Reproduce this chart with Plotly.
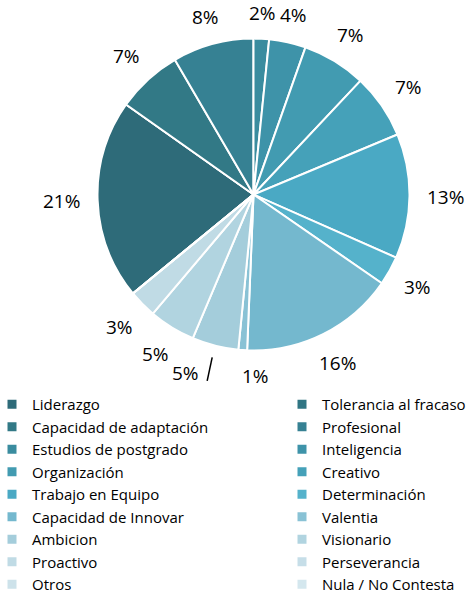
import math
import plotly.graph_objects as go

categories = [
    "Liderazgo", "Tolerancia al fracaso", "Capacidad de adaptación", "Profesional",
    "Estudios de postgrado", "Inteligencia", "Organización", "Creativo",
    "Trabajo en Equipo", "Determinación", "Capacidad de Innovar", "Valentia",
    "Ambicion", "Visionario", "Proactivo", "Perseverancia", "Otros", "Nula / No Contesta",
]
# share of answers (%)
values = [20.7, 0, 6.8, 8.4, 1.6, 3.8, 6.6, 6.7, 12.9, 3.0, 16.0, 0.9, 4.8, 4.8, 2.9, 0, 0, 0]
colors = [
    "#2e6b79", "#307583", "#327986", "#368193", "#3a8c9f", "#3e93a9", "#429bb1", "#45a1b9",
    "#4aa9c4", "#55b2cb", "#74b8ce", "#89c2d5", "#a4cddb", "#b1d4e0", "#c0dbe5",
    "#c6dee8", "#cde2ea", "#d4e7ee",
]

FONT = "Open Sans, Lato, Calibri, sans-serif"
LABEL_SIZE = 19
LEGEND_SIZE = 15

W, H = 472, 601
# pie box (pixels): centre and radius
cx, cy, r = 253.5, 194.5, 156

total = sum(values)
labels_text = [f"{round(v / total * 100)}%" if v > 0 else "" for v in values]
# first slice starts so that the Profesional/Estudios boundary sits at 12 o'clock
before_top = sum(values[:4])
rotation = -before_top / total * 360

fig = go.Figure()
fig.add_trace(go.Pie(
    labels=categories,
    values=values,
    textinfo="none",
    sort=False,
    direction="clockwise",
    rotation=rotation,
    marker=dict(colors=colors, line=dict(color="white", width=2)),
    domain=dict(x=[(cx - r) / W, (cx + r) / W],
                y=[1 - (cy + r) / H, 1 - (cy - r) / H]),
    showlegend=False,
    hoverinfo="label+percent",
))

# legend: two columns, filled row by row (even items left, odd items right)
for i, (cat, col) in enumerate(zip(categories, colors)):
    fig.add_trace(go.Scatter(
        x=[None], y=[None], mode="markers", name=cat,
        marker=dict(symbol="square", size=9, color=col),
        legend="legend" if i % 2 == 0 else "legend2",
        showlegend=True, hoverinfo="skip",
    ))

# outside data labels, positioned at each slice's mid-angle
labels = []
cum = 0
for v, txt in zip(values, labels_text):
    mid = cum + v / 2
    cum += v
    if v <= 0:
        continue
    theta = math.radians(rotation + mid / total * 360)
    s, c = math.sin(theta), math.cos(theta)
    tw = LABEL_SIZE * (0.572 * (len(txt) - 1) + 0.83)
    th = 16
    dist = r + 17 + abs(s) * tw / 2 + abs(c) * th / 2
    labels.append(dict(txt=txt, theta=theta, x=cx + dist * s, y=cy - dist * c,
                       x0=cx + dist * s, tw=tw))

# resolve overlaps between neighbouring labels below the pie (original positions)
MIN_SEP = 70
pairs = []
for a, b in zip(labels, labels[1:]):
    if a["y"] < cy + r or b["y"] < cy + r:
        continue
    dx = abs(a["x0"] - b["x0"])
    gap = dx - (a["tw"] + b["tw"]) / 2
    if abs(a["y"] - b["y"]) < 18 and gap < 15:
        pairs.append((a, b, dx))
for a, b, dx in pairs:
    need = MIN_SEP - dx
    sign = 1 if a["x0"] >= b["x0"] else -1
    a["x"] += sign * need * 0.4
    b["x"] -= sign * need * 0.6

annotations = []
shapes = []
for lab in labels:
    annotations.append(dict(
        x=lab["x"] / W, y=1 - lab["y"] / H, xref="paper", yref="paper",
        text=lab["txt"], showarrow=False, xanchor="center", yanchor="middle",
        font=dict(family=FONT, size=LABEL_SIZE, color="#000000"),
    ))
    if abs(lab["x"] - lab["x0"]) > 20:
        # leader line from the pie edge to the displaced label
        sx = cx + (r + 12) * math.sin(lab["theta"])
        sy = cy - (r + 12) * math.cos(lab["theta"])
        ex = lab["x"] + lab["tw"] / 2 + 8
        ey = lab["y"] + 8
        shapes.append(dict(type="line", xref="paper", yref="paper",
                           x0=sx / W, y0=1 - sy / H, x1=ex / W, y1=1 - ey / H,
                           line=dict(color="#000000", width=1.5)))

legend_common = dict(
    orientation="v", yanchor="top", xanchor="left",
    font=dict(family=FONT, size=LEGEND_SIZE, color="#000000"),
    bgcolor="rgba(0,0,0,0)", traceorder="normal",
)

fig.update_layout(
    width=W, height=H,
    margin=dict(l=0, r=0, t=0, b=0, autoexpand=False),
    paper_bgcolor="white",
    plot_bgcolor="white",
    font=dict(family=FONT, size=LEGEND_SIZE, color="#000000"),
    annotations=annotations,
    shapes=shapes,
    xaxis=dict(visible=False),
    yaxis=dict(visible=False),
    legend=dict(x=-8 / W, y=1 - 388 / H, **legend_common),
    legend2=dict(x=282 / W, y=1 - 388 / H, **legend_common),
)

fig.write_html(
    "out.html",
    config={"displayModeBar": False},
    post_script="document.body.style.margin='0px';document.body.style.overflow='hidden';",
)
